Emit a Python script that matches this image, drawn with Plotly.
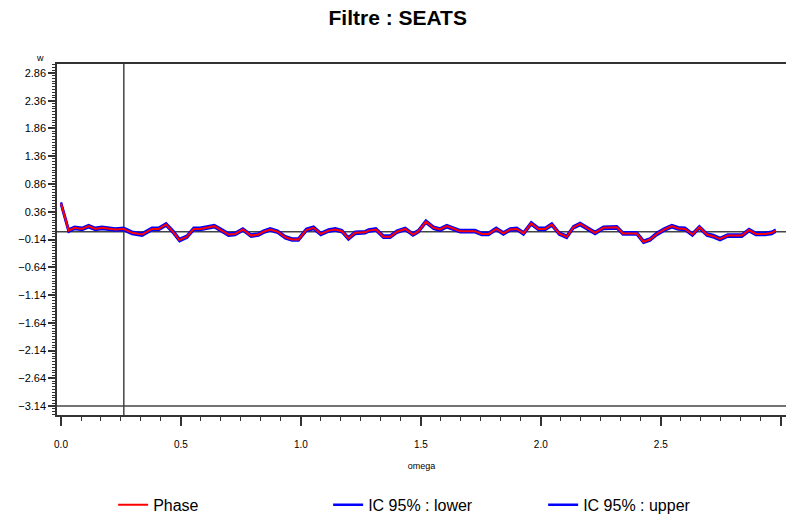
import plotly.graph_objects as go

# ---- data ----
omega = [0.000, 0.032, 0.057, 0.088, 0.115, 0.143, 0.171, 0.198, 0.226, 0.261,
         0.296, 0.338, 0.379, 0.407, 0.438, 0.469, 0.494, 0.525, 0.553, 0.580,
         0.608, 0.639, 0.667, 0.698, 0.726, 0.758, 0.792, 0.823, 0.844, 0.872,
         0.903, 0.935, 0.963, 0.990, 1.022, 1.053, 1.083, 1.115, 1.143, 1.171,
         1.198, 1.226, 1.268, 1.282, 1.313, 1.344, 1.372, 1.400, 1.435, 1.467,
         1.490, 1.521, 1.553, 1.580, 1.608, 1.636, 1.664, 1.698, 1.726, 1.754,
         1.782, 1.814, 1.844, 1.872, 1.900, 1.928, 1.960, 1.990, 2.018, 2.046,
         2.076, 2.108, 2.136, 2.164, 2.194, 2.226, 2.261, 2.296, 2.317, 2.342,
         2.400, 2.428, 2.455, 2.483, 2.515, 2.546, 2.573, 2.601, 2.632, 2.661,
         2.692, 2.719, 2.747, 2.779, 2.838, 2.868, 2.896, 2.935, 2.963, 2.979]

phase = [0.51, 0.02, 0.07, 0.05, 0.10, 0.05, 0.07, 0.05, 0.04, 0.05,
         -0.02, -0.05, 0.05, 0.05, 0.13, -0.01, -0.15, -0.09, 0.05, 0.05,
         0.08, 0.10, 0.03, -0.05, -0.04, 0.04, -0.07, -0.05, 0.00, 0.04,
         0.00, -0.10, -0.14, -0.14, 0.03, 0.07, -0.04, 0.02, 0.04, 0.01,
         -0.12, -0.02, -0.01, 0.02, 0.04, -0.09, -0.09, 0.00, 0.05, -0.05,
         0.01, 0.18, 0.07, 0.04, 0.10, 0.05, 0.01, 0.01, 0.01, -0.04,
         -0.04, 0.05, -0.03, 0.04, 0.05, -0.03, 0.15, 0.05, 0.05, 0.13,
         -0.03, -0.09, 0.08, 0.14, 0.06, -0.02, 0.07, 0.08, 0.08, -0.03,
         -0.03, -0.18, -0.14, -0.04, 0.04, 0.10, 0.06, 0.05, -0.05, 0.08,
         -0.05, -0.08, -0.13, -0.07, -0.07, 0.03, -0.04, -0.04, -0.02, 0.02]

ci_lower = [0.49, 0.00, 0.05, 0.03, 0.08, 0.03, 0.05, 0.03, 0.02, 0.03,
            -0.04, -0.07, 0.03, 0.03, 0.11, -0.03, -0.17, -0.11, 0.03, 0.03,
            0.06, 0.08, 0.01, -0.07, -0.06, 0.02, -0.09, -0.07, -0.02, 0.02,
            -0.02, -0.12, -0.16, -0.16, 0.01, 0.05, -0.06, 0.00, 0.02, -0.01,
            -0.14, -0.04, -0.03, 0.00, 0.02, -0.11, -0.11, -0.02, 0.03, -0.07,
            -0.01, 0.16, 0.05, 0.02, 0.08, 0.03, -0.01, -0.01, -0.01, -0.06,
            -0.06, 0.03, -0.05, 0.02, 0.03, -0.05, 0.13, 0.03, 0.03, 0.11,
            -0.05, -0.11, 0.06, 0.12, 0.04, -0.04, 0.05, 0.06, 0.06, -0.05,
            -0.05, -0.20, -0.16, -0.06, 0.02, 0.08, 0.04, 0.03, -0.07, 0.06,
            -0.07, -0.10, -0.15, -0.09, -0.09, 0.01, -0.06, -0.06, -0.04, 0.00]

ci_upper = [0.53, 0.04, 0.09, 0.07, 0.12, 0.07, 0.09, 0.07, 0.06, 0.07,
            0.00, -0.03, 0.07, 0.07, 0.15, 0.01, -0.13, -0.07, 0.07, 0.07,
            0.10, 0.12, 0.05, -0.03, -0.02, 0.06, -0.05, -0.03, 0.02, 0.06,
            0.02, -0.08, -0.12, -0.12, 0.05, 0.09, -0.02, 0.04, 0.06, 0.03,
            -0.10, 0.00, 0.01, 0.04, 0.06, -0.07, -0.07, 0.02, 0.07, -0.03,
            0.03, 0.20, 0.09, 0.06, 0.12, 0.07, 0.03, 0.03, 0.03, -0.02,
            -0.02, 0.07, -0.01, 0.06, 0.07, -0.01, 0.17, 0.07, 0.07, 0.15,
            -0.01, -0.07, 0.10, 0.16, 0.08, 0.00, 0.09, 0.10, 0.10, -0.01,
            -0.01, -0.16, -0.12, -0.02, 0.06, 0.12, 0.08, 0.07, -0.03, 0.10,
            -0.03, -0.06, -0.11, -0.05, -0.05, 0.05, -0.02, -0.02, 0.00, 0.04]

# reference lines (axis values)
href_y = [0.0, -3.14]
vref_x = [0.2618]

FONT = "Liberation Sans, Arial, sans-serif"
AX = "#333333"

fig = go.Figure()
fig.add_trace(go.Scatter(x=omega, y=ci_lower, mode="lines", name="IC 95% : lower",
                         line=dict(color="#0000FF", width=2.5), legendrank=2))
fig.add_trace(go.Scatter(x=omega, y=ci_upper, mode="lines", name="IC 95% : upper",
                         line=dict(color="#0000FF", width=2.5), legendrank=3))
fig.add_trace(go.Scatter(x=omega, y=phase, mode="lines", name="Phase",
                         line=dict(color="#FF0000", width=2), legendrank=1))

for yv in href_y:
    fig.add_shape(type="line", xref="paper", x0=0, x1=1, yref="y", y0=yv, y1=yv,
                  line=dict(color="#444444", width=1.5), layer="below")
for xv in vref_x:
    fig.add_shape(type="line", xref="x", x0=xv, x1=xv, yref="paper", y0=0, y1=1,
                  line=dict(color="#444444", width=1.5), layer="below")

fig.add_annotation(text="w", xref="paper", yref="paper", x=-0.023, y=1.017,
                   xanchor="center", yanchor="middle",
                   showarrow=False, font=dict(size=9, color="black", family=FONT))

fig.update_layout(
    width=786, height=519,
    margin=dict(l=57, r=0, t=64, b=104, autoexpand=False),
    paper_bgcolor="white", plot_bgcolor="white",
    font=dict(family=FONT, color="black"),
    title=dict(text="<b>Filtre : SEATS</b>", x=0.506, xanchor="center",
               y=0.966, yanchor="middle",
               font=dict(size=21, family=FONT, color="black")),
    showlegend=True,
    legend=dict(orientation="h", x=0.077, xanchor="left", y=-0.256, yanchor="middle",
                font=dict(size=16, family=FONT, color="black"),
                entrywidth=170, entrywidthmode="pixels", bgcolor="rgba(0,0,0,0)"),
    xaxis=dict(range=[-0.0167, 3.022], showgrid=False, zeroline=False, automargin=False,
               showline=True, linecolor=AX, linewidth=1.5, mirror=True,
               ticks="outside", ticklen=9, tickwidth=1.5, tickcolor=AX,
               tick0=0, dtick=0.5, tickformat=".1f",
               tickfont=dict(size=10, family=FONT, color="black"),
               ticklabelstandoff=10,
               minor=dict(ticks="outside", ticklen=4, tickwidth=1, tickcolor=AX,
                          tick0=0, dtick=1/12, showgrid=False),
               title=dict(text="omega", font=dict(size=9, family=FONT, color="black"),
                          standoff=14)),
    yaxis=dict(range=[-3.30, 3.02], showgrid=False, zeroline=False, automargin=False,
               showline=True, linecolor=AX, linewidth=1.5,
               ticks="outside", ticklen=7, tickwidth=1.5, tickcolor=AX,
               tick0=-3.14, dtick=0.5, tickformat=".2f",
               tickfont=dict(size=11, family=FONT, color="black"),
               minor=dict(ticks="outside", ticklen=3, tickwidth=1, tickcolor=AX,
                          tick0=-3.14, dtick=0.05, showgrid=False)),
)

fig.write_html("out.html", config={"displayModeBar": False},
               post_script="document.body.style.margin='0px';document.body.style.overflow='hidden';")
